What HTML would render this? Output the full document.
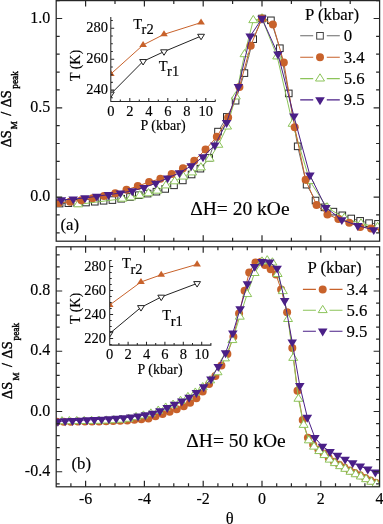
<!DOCTYPE html>
<html><head><meta charset="utf-8"><style>
html,body{margin:0;padding:0;background:#fff;}
svg{display:block;will-change:transform;}
text{stroke:#000;stroke-width:0.15px;}
text.r{stroke-width:0.4px;}
</style></head><body>
<svg width="383" height="524" viewBox="0 0 383 524">
<defs><clipPath id="ca"><rect x="56.2" y="0.5" width="323.4" height="240.6"/></clipPath><clipPath id="cb"><rect x="56.2" y="246.8" width="323.4" height="240"/></clipPath></defs>
<rect width="383" height="524" fill="white"/>
<g clip-path="url(#ca)">
<path d="M50.81,203.95 L59.61,203.55 L68.41,203.18 L77.21,202.87 L86.01,202.52 L94.81,201.72 L103.61,200.77 L112.41,200.07 L121.21,198.74 L130.01,196.98 L138.81,195.20 L147.61,193.60 L156.41,191.68 L165.21,188.92 L174.01,185.32 L182.81,180.40 L191.60,174.48 L200.40,168.65 L209.20,157.76 L218.00,131.61 L226.80,116.94 L235.60,100.70 L244.40,73.10 L253.20,39.14 L262.00,18.50 L270.92,20.33 L279.85,48.23 L288.77,93.41 L297.69,146.34 L306.61,184.66 L315.54,200.52 L324.46,207.36 L333.38,211.64 L342.31,215.33 L351.23,218.49 L360.15,220.87 L369.07,223.15 L378.00,223.88 L386.92,224.98" fill="none" stroke="#6a6a6a" stroke-width="1.0"/><rect x="47.51" y="200.65" width="6.60" height="6.60" fill="white" stroke="#2a2a2a" stroke-width="1"/><rect x="56.31" y="200.25" width="6.60" height="6.60" fill="white" stroke="#2a2a2a" stroke-width="1"/><rect x="65.11" y="199.88" width="6.60" height="6.60" fill="white" stroke="#2a2a2a" stroke-width="1"/><rect x="73.91" y="199.57" width="6.60" height="6.60" fill="white" stroke="#2a2a2a" stroke-width="1"/><rect x="82.71" y="199.22" width="6.60" height="6.60" fill="white" stroke="#2a2a2a" stroke-width="1"/><rect x="91.51" y="198.42" width="6.60" height="6.60" fill="white" stroke="#2a2a2a" stroke-width="1"/><rect x="100.31" y="197.47" width="6.60" height="6.60" fill="white" stroke="#2a2a2a" stroke-width="1"/><rect x="109.11" y="196.77" width="6.60" height="6.60" fill="white" stroke="#2a2a2a" stroke-width="1"/><rect x="117.91" y="195.44" width="6.60" height="6.60" fill="white" stroke="#2a2a2a" stroke-width="1"/><rect x="126.71" y="193.68" width="6.60" height="6.60" fill="white" stroke="#2a2a2a" stroke-width="1"/><rect x="135.51" y="191.90" width="6.60" height="6.60" fill="white" stroke="#2a2a2a" stroke-width="1"/><rect x="144.31" y="190.30" width="6.60" height="6.60" fill="white" stroke="#2a2a2a" stroke-width="1"/><rect x="153.11" y="188.38" width="6.60" height="6.60" fill="white" stroke="#2a2a2a" stroke-width="1"/><rect x="161.91" y="185.62" width="6.60" height="6.60" fill="white" stroke="#2a2a2a" stroke-width="1"/><rect x="170.71" y="182.02" width="6.60" height="6.60" fill="white" stroke="#2a2a2a" stroke-width="1"/><rect x="179.51" y="177.10" width="6.60" height="6.60" fill="white" stroke="#2a2a2a" stroke-width="1"/><rect x="188.30" y="171.18" width="6.60" height="6.60" fill="white" stroke="#2a2a2a" stroke-width="1"/><rect x="197.10" y="165.35" width="6.60" height="6.60" fill="white" stroke="#2a2a2a" stroke-width="1"/><rect x="205.90" y="154.46" width="6.60" height="6.60" fill="white" stroke="#2a2a2a" stroke-width="1"/><rect x="214.70" y="128.31" width="6.60" height="6.60" fill="white" stroke="#2a2a2a" stroke-width="1"/><rect x="223.50" y="113.64" width="6.60" height="6.60" fill="white" stroke="#2a2a2a" stroke-width="1"/><rect x="232.30" y="97.40" width="6.60" height="6.60" fill="white" stroke="#2a2a2a" stroke-width="1"/><rect x="241.10" y="69.80" width="6.60" height="6.60" fill="white" stroke="#2a2a2a" stroke-width="1"/><rect x="249.90" y="35.84" width="6.60" height="6.60" fill="white" stroke="#2a2a2a" stroke-width="1"/><rect x="258.70" y="15.20" width="6.60" height="6.60" fill="white" stroke="#2a2a2a" stroke-width="1"/><rect x="267.62" y="17.03" width="6.60" height="6.60" fill="white" stroke="#2a2a2a" stroke-width="1"/><rect x="276.55" y="44.93" width="6.60" height="6.60" fill="white" stroke="#2a2a2a" stroke-width="1"/><rect x="285.47" y="90.11" width="6.60" height="6.60" fill="white" stroke="#2a2a2a" stroke-width="1"/><rect x="294.39" y="143.04" width="6.60" height="6.60" fill="white" stroke="#2a2a2a" stroke-width="1"/><rect x="303.31" y="181.36" width="6.60" height="6.60" fill="white" stroke="#2a2a2a" stroke-width="1"/><rect x="312.24" y="197.22" width="6.60" height="6.60" fill="white" stroke="#2a2a2a" stroke-width="1"/><rect x="321.16" y="204.06" width="6.60" height="6.60" fill="white" stroke="#2a2a2a" stroke-width="1"/><rect x="330.08" y="208.34" width="6.60" height="6.60" fill="white" stroke="#2a2a2a" stroke-width="1"/><rect x="339.01" y="212.03" width="6.60" height="6.60" fill="white" stroke="#2a2a2a" stroke-width="1"/><rect x="347.93" y="215.19" width="6.60" height="6.60" fill="white" stroke="#2a2a2a" stroke-width="1"/><rect x="356.85" y="217.57" width="6.60" height="6.60" fill="white" stroke="#2a2a2a" stroke-width="1"/><rect x="365.77" y="219.85" width="6.60" height="6.60" fill="white" stroke="#2a2a2a" stroke-width="1"/><rect x="374.70" y="220.58" width="6.60" height="6.60" fill="white" stroke="#2a2a2a" stroke-width="1"/><rect x="383.62" y="221.68" width="6.60" height="6.60" fill="white" stroke="#2a2a2a" stroke-width="1"/>
<path d="M78.19,204.42 L122.29,198.78 L131.02,197.48 L139.75,195.51 L148.49,193.36 L157.22,190.78 L165.95,185.52 L174.68,181.41 L183.41,176.67 L192.15,172.52 L200.88,167.54 L209.61,158.77 L218.34,144.86 L227.07,126.63 L235.80,96.57 L244.54,54.29 L253.27,20.25 L262.00,18.50 L277.20,56.54 L292.61,123.87 L309.80,181.03 L327.00,207.46 L344.32,218.00 L360.99,223.53 L377.60,227.10" fill="none" stroke="#8cc45a" stroke-width="1.0"/><path d="M73.69,206.82L82.69,206.82L78.19,199.62Z" fill="white" stroke="#8cc45a" stroke-width="1"/><path d="M117.79,201.18L126.79,201.18L122.29,193.98Z" fill="white" stroke="#8cc45a" stroke-width="1"/><path d="M126.52,199.88L135.52,199.88L131.02,192.68Z" fill="white" stroke="#8cc45a" stroke-width="1"/><path d="M135.25,197.91L144.25,197.91L139.75,190.71Z" fill="white" stroke="#8cc45a" stroke-width="1"/><path d="M143.99,195.76L152.99,195.76L148.49,188.56Z" fill="white" stroke="#8cc45a" stroke-width="1"/><path d="M152.72,193.18L161.72,193.18L157.22,185.98Z" fill="white" stroke="#8cc45a" stroke-width="1"/><path d="M161.45,187.92L170.45,187.92L165.95,180.72Z" fill="white" stroke="#8cc45a" stroke-width="1"/><path d="M170.18,183.81L179.18,183.81L174.68,176.61Z" fill="white" stroke="#8cc45a" stroke-width="1"/><path d="M178.91,179.07L187.91,179.07L183.41,171.87Z" fill="white" stroke="#8cc45a" stroke-width="1"/><path d="M187.65,174.92L196.65,174.92L192.15,167.72Z" fill="white" stroke="#8cc45a" stroke-width="1"/><path d="M196.38,169.94L205.38,169.94L200.88,162.74Z" fill="white" stroke="#8cc45a" stroke-width="1"/><path d="M205.11,161.17L214.11,161.17L209.61,153.97Z" fill="white" stroke="#8cc45a" stroke-width="1"/><path d="M213.84,147.26L222.84,147.26L218.34,140.06Z" fill="white" stroke="#8cc45a" stroke-width="1"/><path d="M222.57,129.03L231.57,129.03L227.07,121.83Z" fill="white" stroke="#8cc45a" stroke-width="1"/><path d="M231.30,98.97L240.30,98.97L235.80,91.77Z" fill="white" stroke="#8cc45a" stroke-width="1"/><path d="M240.04,56.69L249.04,56.69L244.54,49.49Z" fill="white" stroke="#8cc45a" stroke-width="1"/><path d="M248.77,22.65L257.77,22.65L253.27,15.45Z" fill="white" stroke="#8cc45a" stroke-width="1"/><path d="M257.50,20.90L266.50,20.90L262.00,13.70Z" fill="white" stroke="#8cc45a" stroke-width="1"/><path d="M272.70,58.94L281.70,58.94L277.20,51.74Z" fill="white" stroke="#8cc45a" stroke-width="1"/><path d="M288.11,126.27L297.11,126.27L292.61,119.07Z" fill="white" stroke="#8cc45a" stroke-width="1"/><path d="M305.30,183.43L314.30,183.43L309.80,176.23Z" fill="white" stroke="#8cc45a" stroke-width="1"/><path d="M322.50,209.86L331.50,209.86L327.00,202.66Z" fill="white" stroke="#8cc45a" stroke-width="1"/><path d="M339.82,220.40L348.82,220.40L344.32,213.20Z" fill="white" stroke="#8cc45a" stroke-width="1"/><path d="M356.49,225.93L365.49,225.93L360.99,218.73Z" fill="white" stroke="#8cc45a" stroke-width="1"/><path d="M373.10,229.50L382.10,229.50L377.60,222.30Z" fill="white" stroke="#8cc45a" stroke-width="1"/>
<path d="M47.50,203.76 L58.79,202.98 L70.08,201.86 L81.37,200.14 L92.66,198.18 L103.95,195.94 L115.24,193.30 L126.52,189.81 L137.81,186.10 L149.10,182.00 L160.39,178.80 L171.68,174.05 L182.97,168.31 L194.26,160.64 L205.55,149.58 L216.84,136.81 L228.13,117.49 L239.42,87.08 L250.71,45.63 L262.00,18.50 L272.91,24.57 L283.81,62.44 L294.72,127.27 L305.63,179.78 L316.54,204.96 L327.44,214.42 L338.35,219.07 L349.26,222.82 L360.17,226.93 L371.07,228.53 L381.98,229.95" fill="none" stroke="#c8622b" stroke-width="1.0"/><circle cx="47.50" cy="203.76" r="4.00" fill="#c8622b"/><circle cx="58.79" cy="202.98" r="4.00" fill="#c8622b"/><circle cx="70.08" cy="201.86" r="4.00" fill="#c8622b"/><circle cx="81.37" cy="200.14" r="4.00" fill="#c8622b"/><circle cx="92.66" cy="198.18" r="4.00" fill="#c8622b"/><circle cx="103.95" cy="195.94" r="4.00" fill="#c8622b"/><circle cx="115.24" cy="193.30" r="4.00" fill="#c8622b"/><circle cx="126.52" cy="189.81" r="4.00" fill="#c8622b"/><circle cx="137.81" cy="186.10" r="4.00" fill="#c8622b"/><circle cx="149.10" cy="182.00" r="4.00" fill="#c8622b"/><circle cx="160.39" cy="178.80" r="4.00" fill="#c8622b"/><circle cx="171.68" cy="174.05" r="4.00" fill="#c8622b"/><circle cx="182.97" cy="168.31" r="4.00" fill="#c8622b"/><circle cx="194.26" cy="160.64" r="4.00" fill="#c8622b"/><circle cx="205.55" cy="149.58" r="4.00" fill="#c8622b"/><circle cx="216.84" cy="136.81" r="4.00" fill="#c8622b"/><circle cx="228.13" cy="117.49" r="4.00" fill="#c8622b"/><circle cx="239.42" cy="87.08" r="4.00" fill="#c8622b"/><circle cx="250.71" cy="45.63" r="4.00" fill="#c8622b"/><circle cx="262.00" cy="18.50" r="4.00" fill="#c8622b"/><circle cx="272.91" cy="24.57" r="4.00" fill="#c8622b"/><circle cx="283.81" cy="62.44" r="4.00" fill="#c8622b"/><circle cx="294.72" cy="127.27" r="4.00" fill="#c8622b"/><circle cx="305.63" cy="179.78" r="4.00" fill="#c8622b"/><circle cx="316.54" cy="204.96" r="4.00" fill="#c8622b"/><circle cx="327.44" cy="214.42" r="4.00" fill="#c8622b"/><circle cx="338.35" cy="219.07" r="4.00" fill="#c8622b"/><circle cx="349.26" cy="222.82" r="4.00" fill="#c8622b"/><circle cx="360.17" cy="226.93" r="4.00" fill="#c8622b"/><circle cx="371.07" cy="228.53" r="4.00" fill="#c8622b"/><circle cx="381.98" cy="229.95" r="4.00" fill="#c8622b"/>
<path d="M49.58,200.27 L61.38,199.94 L73.18,199.02 L84.98,197.93 L96.78,196.30 L108.58,194.64 L120.39,193.08 L132.19,190.98 L143.99,187.56 L155.79,183.32 L167.59,178.10 L179.39,172.84 L191.19,165.96 L202.99,156.87 L214.80,145.14 L226.60,122.67 L238.40,86.75 L250.20,36.21 L262.00,18.50 L277.96,54.22 L293.93,116.19 L309.89,175.13 L325.86,207.64 L341.82,219.78 L357.79,225.68 L373.75,229.78" fill="none" stroke="#4a1f87" stroke-width="1.0"/><path d="M44.78,197.64L54.38,197.64L49.58,205.54Z" fill="#4a1f87"/><path d="M56.58,197.31L66.18,197.31L61.38,205.21Z" fill="#4a1f87"/><path d="M68.38,196.39L77.98,196.39L73.18,204.29Z" fill="#4a1f87"/><path d="M80.18,195.30L89.78,195.30L84.98,203.20Z" fill="#4a1f87"/><path d="M91.98,193.67L101.58,193.67L96.78,201.57Z" fill="#4a1f87"/><path d="M103.78,192.00L113.38,192.00L108.58,199.90Z" fill="#4a1f87"/><path d="M115.59,190.44L125.19,190.44L120.39,198.34Z" fill="#4a1f87"/><path d="M127.39,188.35L136.99,188.35L132.19,196.25Z" fill="#4a1f87"/><path d="M139.19,184.93L148.79,184.93L143.99,192.83Z" fill="#4a1f87"/><path d="M150.99,180.69L160.59,180.69L155.79,188.59Z" fill="#4a1f87"/><path d="M162.79,175.47L172.39,175.47L167.59,183.37Z" fill="#4a1f87"/><path d="M174.59,170.20L184.19,170.20L179.39,178.10Z" fill="#4a1f87"/><path d="M186.39,163.33L195.99,163.33L191.19,171.23Z" fill="#4a1f87"/><path d="M198.19,154.24L207.79,154.24L202.99,162.14Z" fill="#4a1f87"/><path d="M210.00,142.50L219.60,142.50L214.80,150.40Z" fill="#4a1f87"/><path d="M221.80,120.04L231.40,120.04L226.60,127.94Z" fill="#4a1f87"/><path d="M233.60,84.12L243.20,84.12L238.40,92.02Z" fill="#4a1f87"/><path d="M245.40,33.57L255.00,33.57L250.20,41.47Z" fill="#4a1f87"/><path d="M257.20,15.87L266.80,15.87L262.00,23.77Z" fill="#4a1f87"/><path d="M273.16,51.59L282.76,51.59L277.96,59.49Z" fill="#4a1f87"/><path d="M289.13,113.56L298.73,113.56L293.93,121.46Z" fill="#4a1f87"/><path d="M305.09,172.50L314.69,172.50L309.89,180.40Z" fill="#4a1f87"/><path d="M321.06,205.00L330.66,205.00L325.86,212.90Z" fill="#4a1f87"/><path d="M337.02,217.15L346.62,217.15L341.82,225.05Z" fill="#4a1f87"/><path d="M352.99,223.04L362.59,223.04L357.79,230.94Z" fill="#4a1f87"/><path d="M368.95,227.15L378.55,227.15L373.75,235.05Z" fill="#4a1f87"/>
</g>
<g clip-path="url(#cb)">
<path d="M49.67,421.82 L56.73,421.74 L63.79,421.68 L70.84,421.63 L77.90,421.58 L84.95,421.54 L92.01,421.51 L99.07,421.45 L106.12,421.34 L113.18,421.12 L120.23,420.82 L127.29,420.44 L134.35,419.79 L141.40,419.27 L148.46,418.57 L155.51,416.21 L162.57,414.04 L169.63,411.80 L176.68,409.32 L183.74,406.31 L190.06,402.75 L196.38,398.15 L202.70,391.47 L209.08,384.09 L215.40,376.11 L221.40,365.42 L227.40,354.12 L233.39,336.65 L239.07,313.61 L244.60,290.72 L249.21,272.50 L255.50,262.41 L261.12,261.65 L264.91,264.97 L270.70,269.33 L275.99,274.60 L281.11,289.51 L287.11,312.25 L292.31,348.12 L297.52,390.85 L302.72,419.90 L307.92,437.65 L313.13,444.78 L318.33,449.54 L323.53,453.50 L328.74,458.10 L333.94,461.74 L339.15,464.84 L344.35,467.52 L349.55,470.49 L354.76,473.05 L359.96,475.26 L365.16,477.90 L370.37,480.52 L375.57,482.70 L380.78,484.73 L385.98,486.64" fill="none" stroke="#c8622b" stroke-width="1.0"/><circle cx="49.67" cy="421.82" r="4.00" fill="#c8622b"/><circle cx="56.73" cy="421.74" r="4.00" fill="#c8622b"/><circle cx="63.79" cy="421.68" r="4.00" fill="#c8622b"/><circle cx="70.84" cy="421.63" r="4.00" fill="#c8622b"/><circle cx="77.90" cy="421.58" r="4.00" fill="#c8622b"/><circle cx="84.95" cy="421.54" r="4.00" fill="#c8622b"/><circle cx="92.01" cy="421.51" r="4.00" fill="#c8622b"/><circle cx="99.07" cy="421.45" r="4.00" fill="#c8622b"/><circle cx="106.12" cy="421.34" r="4.00" fill="#c8622b"/><circle cx="113.18" cy="421.12" r="4.00" fill="#c8622b"/><circle cx="120.23" cy="420.82" r="4.00" fill="#c8622b"/><circle cx="127.29" cy="420.44" r="4.00" fill="#c8622b"/><circle cx="134.35" cy="419.79" r="4.00" fill="#c8622b"/><circle cx="141.40" cy="419.27" r="4.00" fill="#c8622b"/><circle cx="148.46" cy="418.57" r="4.00" fill="#c8622b"/><circle cx="155.51" cy="416.21" r="4.00" fill="#c8622b"/><circle cx="162.57" cy="414.04" r="4.00" fill="#c8622b"/><circle cx="169.63" cy="411.80" r="4.00" fill="#c8622b"/><circle cx="176.68" cy="409.32" r="4.00" fill="#c8622b"/><circle cx="183.74" cy="406.31" r="4.00" fill="#c8622b"/><circle cx="190.06" cy="402.75" r="4.00" fill="#c8622b"/><circle cx="196.38" cy="398.15" r="4.00" fill="#c8622b"/><circle cx="202.70" cy="391.47" r="4.00" fill="#c8622b"/><circle cx="209.08" cy="384.09" r="4.00" fill="#c8622b"/><circle cx="215.40" cy="376.11" r="4.00" fill="#c8622b"/><circle cx="221.40" cy="365.42" r="4.00" fill="#c8622b"/><circle cx="227.40" cy="354.12" r="4.00" fill="#c8622b"/><circle cx="233.39" cy="336.65" r="4.00" fill="#c8622b"/><circle cx="239.07" cy="313.61" r="4.00" fill="#c8622b"/><circle cx="244.60" cy="290.72" r="4.00" fill="#c8622b"/><circle cx="249.21" cy="272.50" r="4.00" fill="#c8622b"/><circle cx="255.50" cy="262.41" r="4.00" fill="#c8622b"/><circle cx="261.12" cy="261.65" r="4.00" fill="#c8622b"/><circle cx="264.91" cy="264.97" r="4.00" fill="#c8622b"/><circle cx="270.70" cy="269.33" r="4.00" fill="#c8622b"/><circle cx="275.99" cy="274.60" r="4.00" fill="#c8622b"/><circle cx="281.11" cy="289.51" r="4.00" fill="#c8622b"/><circle cx="287.11" cy="312.25" r="4.00" fill="#c8622b"/><circle cx="292.31" cy="348.12" r="4.00" fill="#c8622b"/><circle cx="297.52" cy="390.85" r="4.00" fill="#c8622b"/><circle cx="302.72" cy="419.90" r="4.00" fill="#c8622b"/><circle cx="307.92" cy="437.65" r="4.00" fill="#c8622b"/><circle cx="313.13" cy="444.78" r="4.00" fill="#c8622b"/><circle cx="318.33" cy="449.54" r="4.00" fill="#c8622b"/><circle cx="323.53" cy="453.50" r="4.00" fill="#c8622b"/><circle cx="328.74" cy="458.10" r="4.00" fill="#c8622b"/><circle cx="333.94" cy="461.74" r="4.00" fill="#c8622b"/><circle cx="339.15" cy="464.84" r="4.00" fill="#c8622b"/><circle cx="344.35" cy="467.52" r="4.00" fill="#c8622b"/><circle cx="349.55" cy="470.49" r="4.00" fill="#c8622b"/><circle cx="354.76" cy="473.05" r="4.00" fill="#c8622b"/><circle cx="359.96" cy="475.26" r="4.00" fill="#c8622b"/><circle cx="365.16" cy="477.90" r="4.00" fill="#c8622b"/><circle cx="370.37" cy="480.52" r="4.00" fill="#c8622b"/><circle cx="375.57" cy="482.70" r="4.00" fill="#c8622b"/><circle cx="380.78" cy="484.73" r="4.00" fill="#c8622b"/><circle cx="385.98" cy="486.64" r="4.00" fill="#c8622b"/>
<path d="M47.14,421.56 L54.55,421.46 L61.96,421.37 L69.37,421.29 L76.78,421.21 L84.19,421.12 L91.60,421.01 L99.01,420.87 L106.42,420.66 L113.82,420.32 L121.23,419.82 L128.64,418.83 L136.05,417.24 L143.46,415.67 L150.87,413.64 L158.28,410.79 L165.69,407.74 L173.09,404.83 L180.50,401.00 L187.91,397.12 L195.32,392.75 L202.73,387.33 L210.14,380.46 L217.55,372.35 L224.96,358.47 L232.36,340.17 L239.77,316.77 L247.18,294.17 L254.59,273.09 L262.00,261.65 L267.20,260.45 L272.41,262.58 L277.61,274.09 L282.82,291.22 L288.02,319.11 L293.22,357.99 L298.43,398.85 L303.63,424.96 L308.83,440.44 L314.04,446.74 L319.24,451.15 L324.45,455.17 L329.65,459.71 L334.85,463.22 L340.06,466.25 L345.26,468.90 L350.46,471.88 L355.67,474.36 L360.87,476.59 L366.08,479.28 L371.28,481.84 L376.48,483.96 L381.69,485.94 L386.89,487.77" fill="none" stroke="#8cc45a" stroke-width="1.0"/><path d="M42.64,423.96L51.64,423.96L47.14,416.76Z" fill="white" stroke="#8cc45a" stroke-width="1"/><path d="M50.05,423.86L59.05,423.86L54.55,416.66Z" fill="white" stroke="#8cc45a" stroke-width="1"/><path d="M57.46,423.77L66.46,423.77L61.96,416.57Z" fill="white" stroke="#8cc45a" stroke-width="1"/><path d="M64.87,423.69L73.87,423.69L69.37,416.49Z" fill="white" stroke="#8cc45a" stroke-width="1"/><path d="M72.28,423.61L81.28,423.61L76.78,416.41Z" fill="white" stroke="#8cc45a" stroke-width="1"/><path d="M79.69,423.52L88.69,423.52L84.19,416.32Z" fill="white" stroke="#8cc45a" stroke-width="1"/><path d="M87.10,423.41L96.10,423.41L91.60,416.21Z" fill="white" stroke="#8cc45a" stroke-width="1"/><path d="M94.51,423.27L103.51,423.27L99.01,416.07Z" fill="white" stroke="#8cc45a" stroke-width="1"/><path d="M101.92,423.06L110.92,423.06L106.42,415.86Z" fill="white" stroke="#8cc45a" stroke-width="1"/><path d="M109.32,422.72L118.32,422.72L113.82,415.52Z" fill="white" stroke="#8cc45a" stroke-width="1"/><path d="M116.73,422.22L125.73,422.22L121.23,415.02Z" fill="white" stroke="#8cc45a" stroke-width="1"/><path d="M124.14,421.23L133.14,421.23L128.64,414.03Z" fill="white" stroke="#8cc45a" stroke-width="1"/><path d="M131.55,419.64L140.55,419.64L136.05,412.44Z" fill="white" stroke="#8cc45a" stroke-width="1"/><path d="M138.96,418.07L147.96,418.07L143.46,410.87Z" fill="white" stroke="#8cc45a" stroke-width="1"/><path d="M146.37,416.04L155.37,416.04L150.87,408.84Z" fill="white" stroke="#8cc45a" stroke-width="1"/><path d="M153.78,413.19L162.78,413.19L158.28,405.99Z" fill="white" stroke="#8cc45a" stroke-width="1"/><path d="M161.19,410.14L170.19,410.14L165.69,402.94Z" fill="white" stroke="#8cc45a" stroke-width="1"/><path d="M168.59,407.23L177.59,407.23L173.09,400.03Z" fill="white" stroke="#8cc45a" stroke-width="1"/><path d="M176.00,403.40L185.00,403.40L180.50,396.20Z" fill="white" stroke="#8cc45a" stroke-width="1"/><path d="M183.41,399.52L192.41,399.52L187.91,392.32Z" fill="white" stroke="#8cc45a" stroke-width="1"/><path d="M190.82,395.15L199.82,395.15L195.32,387.95Z" fill="white" stroke="#8cc45a" stroke-width="1"/><path d="M198.23,389.73L207.23,389.73L202.73,382.53Z" fill="white" stroke="#8cc45a" stroke-width="1"/><path d="M205.64,382.86L214.64,382.86L210.14,375.66Z" fill="white" stroke="#8cc45a" stroke-width="1"/><path d="M213.05,374.75L222.05,374.75L217.55,367.55Z" fill="white" stroke="#8cc45a" stroke-width="1"/><path d="M220.46,360.87L229.46,360.87L224.96,353.67Z" fill="white" stroke="#8cc45a" stroke-width="1"/><path d="M227.86,342.57L236.86,342.57L232.36,335.37Z" fill="white" stroke="#8cc45a" stroke-width="1"/><path d="M235.27,319.17L244.27,319.17L239.77,311.97Z" fill="white" stroke="#8cc45a" stroke-width="1"/><path d="M242.68,296.57L251.68,296.57L247.18,289.37Z" fill="white" stroke="#8cc45a" stroke-width="1"/><path d="M250.09,275.49L259.09,275.49L254.59,268.29Z" fill="white" stroke="#8cc45a" stroke-width="1"/><path d="M257.50,264.05L266.50,264.05L262.00,256.85Z" fill="white" stroke="#8cc45a" stroke-width="1"/><path d="M262.70,262.85L271.70,262.85L267.20,255.65Z" fill="white" stroke="#8cc45a" stroke-width="1"/><path d="M267.91,264.98L276.91,264.98L272.41,257.78Z" fill="white" stroke="#8cc45a" stroke-width="1"/><path d="M273.11,276.49L282.11,276.49L277.61,269.29Z" fill="white" stroke="#8cc45a" stroke-width="1"/><path d="M278.32,293.62L287.32,293.62L282.82,286.42Z" fill="white" stroke="#8cc45a" stroke-width="1"/><path d="M283.52,321.51L292.52,321.51L288.02,314.31Z" fill="white" stroke="#8cc45a" stroke-width="1"/><path d="M288.72,360.39L297.72,360.39L293.22,353.19Z" fill="white" stroke="#8cc45a" stroke-width="1"/><path d="M293.93,401.25L302.93,401.25L298.43,394.05Z" fill="white" stroke="#8cc45a" stroke-width="1"/><path d="M299.13,427.36L308.13,427.36L303.63,420.16Z" fill="white" stroke="#8cc45a" stroke-width="1"/><path d="M304.33,442.84L313.33,442.84L308.83,435.64Z" fill="white" stroke="#8cc45a" stroke-width="1"/><path d="M309.54,449.14L318.54,449.14L314.04,441.94Z" fill="white" stroke="#8cc45a" stroke-width="1"/><path d="M314.74,453.55L323.74,453.55L319.24,446.35Z" fill="white" stroke="#8cc45a" stroke-width="1"/><path d="M319.95,457.57L328.95,457.57L324.45,450.37Z" fill="white" stroke="#8cc45a" stroke-width="1"/><path d="M325.15,462.11L334.15,462.11L329.65,454.91Z" fill="white" stroke="#8cc45a" stroke-width="1"/><path d="M330.35,465.62L339.35,465.62L334.85,458.42Z" fill="white" stroke="#8cc45a" stroke-width="1"/><path d="M335.56,468.65L344.56,468.65L340.06,461.45Z" fill="white" stroke="#8cc45a" stroke-width="1"/><path d="M340.76,471.30L349.76,471.30L345.26,464.10Z" fill="white" stroke="#8cc45a" stroke-width="1"/><path d="M345.96,474.28L354.96,474.28L350.46,467.08Z" fill="white" stroke="#8cc45a" stroke-width="1"/><path d="M351.17,476.76L360.17,476.76L355.67,469.56Z" fill="white" stroke="#8cc45a" stroke-width="1"/><path d="M356.37,478.99L365.37,478.99L360.87,471.79Z" fill="white" stroke="#8cc45a" stroke-width="1"/><path d="M361.58,481.68L370.58,481.68L366.08,474.48Z" fill="white" stroke="#8cc45a" stroke-width="1"/><path d="M366.78,484.24L375.78,484.24L371.28,477.04Z" fill="white" stroke="#8cc45a" stroke-width="1"/><path d="M371.98,486.36L380.98,486.36L376.48,479.16Z" fill="white" stroke="#8cc45a" stroke-width="1"/><path d="M377.19,488.34L386.19,488.34L381.69,481.14Z" fill="white" stroke="#8cc45a" stroke-width="1"/><path d="M382.39,490.17L391.39,490.17L386.89,482.97Z" fill="white" stroke="#8cc45a" stroke-width="1"/>
<path d="M50.56,421.61 L57.85,421.38 L65.14,421.00 L72.43,420.61 L79.72,420.28 L87.01,419.97 L94.30,419.63 L101.59,419.26 L108.88,418.86 L116.18,418.41 L123.47,417.86 L130.76,417.11 L138.05,416.13 L145.34,414.95 L152.63,413.41 L159.92,411.00 L167.21,407.63 L174.51,404.28 L181.80,401.22 L189.09,397.39 L196.38,392.69 L203.67,386.88 L210.96,379.14 L218.25,366.51 L225.54,352.94 L232.84,333.09 L240.13,308.93 L247.42,283.90 L254.71,266.54 L262.00,261.65 L269.56,262.11 L277.11,268.33 L284.67,300.63 L292.22,342.05 L299.78,385.64 L307.33,417.36 L314.89,437.63 L322.45,446.34 L330.00,451.61 L337.56,455.48 L345.11,459.35 L352.67,462.93 L360.23,466.21 L367.78,469.19 L375.34,472.14 L382.89,474.69" fill="none" stroke="#4a1f87" stroke-width="1.0"/><path d="M45.76,418.98L55.36,418.98L50.56,426.88Z" fill="#4a1f87"/><path d="M53.05,418.74L62.65,418.74L57.85,426.64Z" fill="#4a1f87"/><path d="M60.34,418.37L69.94,418.37L65.14,426.27Z" fill="#4a1f87"/><path d="M67.63,417.98L77.23,417.98L72.43,425.88Z" fill="#4a1f87"/><path d="M74.92,417.65L84.52,417.65L79.72,425.55Z" fill="#4a1f87"/><path d="M82.21,417.33L91.81,417.33L87.01,425.23Z" fill="#4a1f87"/><path d="M89.50,417.00L99.10,417.00L94.30,424.90Z" fill="#4a1f87"/><path d="M96.79,416.63L106.39,416.63L101.59,424.53Z" fill="#4a1f87"/><path d="M104.08,416.23L113.68,416.23L108.88,424.13Z" fill="#4a1f87"/><path d="M111.38,415.78L120.98,415.78L116.18,423.68Z" fill="#4a1f87"/><path d="M118.67,415.22L128.27,415.22L123.47,423.12Z" fill="#4a1f87"/><path d="M125.96,414.47L135.56,414.47L130.76,422.37Z" fill="#4a1f87"/><path d="M133.25,413.49L142.85,413.49L138.05,421.39Z" fill="#4a1f87"/><path d="M140.54,412.32L150.14,412.32L145.34,420.22Z" fill="#4a1f87"/><path d="M147.83,410.77L157.43,410.77L152.63,418.67Z" fill="#4a1f87"/><path d="M155.12,408.36L164.72,408.36L159.92,416.26Z" fill="#4a1f87"/><path d="M162.41,405.00L172.01,405.00L167.21,412.90Z" fill="#4a1f87"/><path d="M169.71,401.64L179.31,401.64L174.51,409.54Z" fill="#4a1f87"/><path d="M177.00,398.59L186.60,398.59L181.80,406.49Z" fill="#4a1f87"/><path d="M184.29,394.75L193.89,394.75L189.09,402.65Z" fill="#4a1f87"/><path d="M191.58,390.06L201.18,390.06L196.38,397.96Z" fill="#4a1f87"/><path d="M198.87,384.25L208.47,384.25L203.67,392.15Z" fill="#4a1f87"/><path d="M206.16,376.51L215.76,376.51L210.96,384.41Z" fill="#4a1f87"/><path d="M213.45,363.88L223.05,363.88L218.25,371.78Z" fill="#4a1f87"/><path d="M220.74,350.31L230.34,350.31L225.54,358.21Z" fill="#4a1f87"/><path d="M228.04,330.45L237.64,330.45L232.84,338.35Z" fill="#4a1f87"/><path d="M235.33,306.30L244.93,306.30L240.13,314.20Z" fill="#4a1f87"/><path d="M242.62,281.27L252.22,281.27L247.42,289.17Z" fill="#4a1f87"/><path d="M249.91,263.91L259.51,263.91L254.71,271.81Z" fill="#4a1f87"/><path d="M257.20,259.02L266.80,259.02L262.00,266.92Z" fill="#4a1f87"/><path d="M264.76,259.48L274.36,259.48L269.56,267.38Z" fill="#4a1f87"/><path d="M272.31,265.70L281.91,265.70L277.11,273.60Z" fill="#4a1f87"/><path d="M279.87,297.99L289.47,297.99L284.67,305.89Z" fill="#4a1f87"/><path d="M287.42,339.41L297.02,339.41L292.22,347.31Z" fill="#4a1f87"/><path d="M294.98,383.01L304.58,383.01L299.78,390.91Z" fill="#4a1f87"/><path d="M302.53,414.73L312.13,414.73L307.33,422.63Z" fill="#4a1f87"/><path d="M310.09,434.99L319.69,434.99L314.89,442.89Z" fill="#4a1f87"/><path d="M317.65,443.70L327.25,443.70L322.45,451.60Z" fill="#4a1f87"/><path d="M325.20,448.98L334.80,448.98L330.00,456.88Z" fill="#4a1f87"/><path d="M332.76,452.84L342.36,452.84L337.56,460.74Z" fill="#4a1f87"/><path d="M340.31,456.72L349.91,456.72L345.11,464.62Z" fill="#4a1f87"/><path d="M347.87,460.29L357.47,460.29L352.67,468.19Z" fill="#4a1f87"/><path d="M355.43,463.58L365.03,463.58L360.23,471.48Z" fill="#4a1f87"/><path d="M362.98,466.56L372.58,466.56L367.78,474.46Z" fill="#4a1f87"/><path d="M370.54,469.51L380.14,469.51L375.34,477.41Z" fill="#4a1f87"/><path d="M378.09,472.06L387.69,472.06L382.89,479.96Z" fill="#4a1f87"/>
</g>
<rect x="56.2" y="0.6" width="323.4" height="240.6" fill="none" stroke="#262626" stroke-width="1.25"/>
<rect x="56.2" y="246.8" width="323.4" height="240.0" fill="none" stroke="#262626" stroke-width="1.25"/>
<path d="M56.2,232.82h3.5M379.6,232.82h-3.5M56.2,214.96h3.5M379.6,214.96h-3.5M56.2,197.10h6M379.6,197.10h-6M56.2,179.24h3.5M379.6,179.24h-3.5M56.2,161.38h3.5M379.6,161.38h-3.5M56.2,143.52h3.5M379.6,143.52h-3.5M56.2,125.66h3.5M379.6,125.66h-3.5M56.2,107.80h6M379.6,107.80h-6M56.2,89.94h3.5M379.6,89.94h-3.5M56.2,72.08h3.5M379.6,72.08h-3.5M56.2,54.22h3.5M379.6,54.22h-3.5M56.2,36.36h3.5M379.6,36.36h-3.5M56.2,18.50h6M379.6,18.50h-6M56.2,0.64h3.5M379.6,0.64h-3.5M85.60,0.6v6M85.60,241.2v-6M115.00,0.6v3.5M115.00,241.2v-3.5M144.40,0.6v6M144.40,241.2v-6M173.80,0.6v3.5M173.80,241.2v-3.5M203.20,0.6v6M203.20,241.2v-6M232.60,0.6v3.5M232.60,241.2v-3.5M262.00,0.6v6M262.00,241.2v-6M291.40,0.6v3.5M291.40,241.2v-3.5M320.80,0.6v6M320.80,241.2v-6M350.20,0.6v3.5M350.20,241.2v-3.5M56.2,483.79h3.5M379.6,483.79h-3.5M56.2,471.74h6M379.6,471.74h-6M56.2,459.69h3.5M379.6,459.69h-3.5M56.2,447.64h3.5M379.6,447.64h-3.5M56.2,435.60h3.5M379.6,435.60h-3.5M56.2,423.55h3.5M379.6,423.55h-3.5M56.2,411.50h6M379.6,411.50h-6M56.2,399.45h3.5M379.6,399.45h-3.5M56.2,387.40h3.5M379.6,387.40h-3.5M56.2,375.36h3.5M379.6,375.36h-3.5M56.2,363.31h3.5M379.6,363.31h-3.5M56.2,351.26h6M379.6,351.26h-6M56.2,339.21h3.5M379.6,339.21h-3.5M56.2,327.16h3.5M379.6,327.16h-3.5M56.2,315.12h3.5M379.6,315.12h-3.5M56.2,303.07h3.5M379.6,303.07h-3.5M56.2,291.02h6M379.6,291.02h-6M56.2,278.97h3.5M379.6,278.97h-3.5M56.2,266.92h3.5M379.6,266.92h-3.5M56.2,254.88h3.5M379.6,254.88h-3.5M70.90,246.8v3.5M70.90,486.8v-3.5M85.60,246.8v6M85.60,486.8v-6M100.30,246.8v3.5M100.30,486.8v-3.5M115.00,246.8v3.5M115.00,486.8v-3.5M129.70,246.8v3.5M129.70,486.8v-3.5M144.40,246.8v6M144.40,486.8v-6M159.10,246.8v3.5M159.10,486.8v-3.5M173.80,246.8v3.5M173.80,486.8v-3.5M188.50,246.8v3.5M188.50,486.8v-3.5M203.20,246.8v6M203.20,486.8v-6M217.90,246.8v3.5M217.90,486.8v-3.5M232.60,246.8v3.5M232.60,486.8v-3.5M247.30,246.8v3.5M247.30,486.8v-3.5M262.00,246.8v6M262.00,486.8v-6M276.70,246.8v3.5M276.70,486.8v-3.5M291.40,246.8v3.5M291.40,486.8v-3.5M306.10,246.8v3.5M306.10,486.8v-3.5M320.80,246.8v6M320.80,486.8v-6M335.50,246.8v3.5M335.50,486.8v-3.5M350.20,246.8v3.5M350.20,486.8v-3.5M364.90,246.8v3.5M364.90,486.8v-3.5" stroke="#262626" stroke-width="1.2" fill="none"/>
<g font-family="Liberation Serif" font-size="16" fill="#000" text-anchor="end">
<text x="50.2" y="22.60">1.0</text>
<text x="50.2" y="111.90">0.5</text>
<text x="50.2" y="201.20">0.0</text>
<text x="50.2" y="295.12">0.8</text>
<text x="50.2" y="355.36">0.4</text>
<text x="50.2" y="415.60">0.0</text>
<text x="50.2" y="475.84">-0.4</text>
</g>
<g font-family="Liberation Serif" font-size="16" fill="#000" text-anchor="middle">
<text x="85.60" y="503.9">-6</text>
<text x="144.40" y="503.9">-4</text>
<text x="203.20" y="503.9">-2</text>
<text x="262.00" y="503.9">0</text>
<text x="320.80" y="503.9">2</text>
<text x="379.60" y="503.9">4</text>
<text x="229.6" y="523.6" font-size="16.5">θ</text>
</g>
<text class="r" transform="translate(10.5,147.25) rotate(-90)" font-family="Liberation Serif" font-size="14.2" fill="#000">ΔS</text>
<text class="r" transform="translate(17.1,129.27) rotate(-90)" font-family="Liberation Serif" font-size="9.2" fill="#000">M</text>
<text class="r" transform="translate(10.5,115.7) rotate(-90)" font-family="Liberation Serif" font-size="14.2" fill="#000">/</text>
<text class="r" transform="translate(10.5,107.25) rotate(-90)" font-family="Liberation Serif" font-size="14.2" fill="#000">ΔS</text>
<text class="r" transform="translate(17.7,88.75) rotate(-90)" font-family="Liberation Serif" font-size="9.3" fill="#000">peak</text>
<text class="r" transform="translate(12.0,398.95) rotate(-90)" font-family="Liberation Serif" font-size="14.2" fill="#000">ΔS</text>
<text class="r" transform="translate(18.5,380.57) rotate(-90)" font-family="Liberation Serif" font-size="9.2" fill="#000">M</text>
<text class="r" transform="translate(12.0,366.9) rotate(-90)" font-family="Liberation Serif" font-size="14.2" fill="#000">/</text>
<text class="r" transform="translate(12.0,358.45) rotate(-90)" font-family="Liberation Serif" font-size="14.2" fill="#000">ΔS</text>
<text class="r" transform="translate(18.8,340.45) rotate(-90)" font-family="Liberation Serif" font-size="9.3" fill="#000">peak</text>
<text x="60.5" y="229.6" font-family="Liberation Serif" font-size="16.8" fill="#000">(a)</text>
<text x="71.45" y="468.5" font-family="Liberation Serif" font-size="16.8" fill="#000">(b)</text>
<text x="190.2" y="214.9" font-family="Liberation Serif" font-size="19.5" fill="#000">ΔH= 20 kOe</text>
<text x="186.3" y="447.3" font-family="Liberation Serif" font-size="19.5" fill="#000">ΔH= 50 kOe</text>
<text x="305.1" y="20.2" font-family="Liberation Serif" font-size="16.8" fill="#000">P (kbar)</text>
<path d="M300.2,35.8H313.2M326.8,35.8H339.8" stroke="#6a6a6a" stroke-width="1.1"/>
<rect x="316.70" y="32.50" width="6.60" height="6.60" fill="white" stroke="#444444" stroke-width="1"/>
<text x="343.70" y="41.30" font-family="Liberation Serif" font-size="16.8" fill="#000">0</text>
<path d="M300.2,57.3H313.2M326.8,57.3H339.8" stroke="#c8622b" stroke-width="1.1"/>
<circle cx="320.00" cy="57.30" r="4.00" fill="#c8622b"/>
<text x="343.70" y="62.80" font-family="Liberation Serif" font-size="16.8" fill="#000">3.4</text>
<path d="M300.2,78.6H313.2M326.8,78.6H339.8" stroke="#8cc45a" stroke-width="1.1"/>
<path d="M315.50,81.00L324.50,81.00L320.00,73.80Z" fill="white" stroke="#8cc45a" stroke-width="1"/>
<text x="343.70" y="84.10" font-family="Liberation Serif" font-size="16.8" fill="#000">5.6</text>
<path d="M300.2,99.9H313.2M326.8,99.9H339.8" stroke="#4a1f87" stroke-width="1.1"/>
<path d="M315.20,97.27L324.80,97.27L320.00,105.17Z" fill="#4a1f87"/>
<text x="343.70" y="105.40" font-family="Liberation Serif" font-size="16.8" fill="#000">9.5</text>
<text x="307.6" y="273.2" font-family="Liberation Serif" font-size="16.8" fill="#000">P (kbar)</text>
<path d="M302.9,289.4H315.9M329.5,289.4H342.5" stroke="#c8622b" stroke-width="1.1"/>
<circle cx="322.70" cy="289.40" r="4.00" fill="#c8622b"/>
<text x="346.40" y="294.90" font-family="Liberation Serif" font-size="16.8" fill="#000">3.4</text>
<path d="M302.9,310.2H315.9M329.5,310.2H342.5" stroke="#8cc45a" stroke-width="1.1"/>
<path d="M318.20,312.60L327.20,312.60L322.70,305.40Z" fill="white" stroke="#8cc45a" stroke-width="1"/>
<text x="346.40" y="315.70" font-family="Liberation Serif" font-size="16.8" fill="#000">5.6</text>
<path d="M302.9,331.2H315.9M329.5,331.2H342.5" stroke="#4a1f87" stroke-width="1.1"/>
<path d="M317.90,328.57L327.50,328.57L322.70,336.47Z" fill="#4a1f87"/>
<text x="346.40" y="336.70" font-family="Liberation Serif" font-size="16.8" fill="#000">9.5</text>
<clipPath id="ia"><rect x="110.8" y="10.899999999999999" width="110.7" height="90.5"/></clipPath>
<g clip-path="url(#ia)">
<path d="M110.80,74.03 L143.10,44.99 L164.00,34.33 L201.05,22.58" stroke="#c8622b" stroke-width="1" fill="none"/>
<path d="M110.80,93.96 L143.10,61.36 L164.00,51.63 L201.05,36.10" stroke="#222" stroke-width="1" fill="none"/>
<path d="M106.97,76.07L114.62,76.07L110.80,69.95Z" fill="#c8622b"/>
<path d="M139.28,47.03L146.92,47.03L143.10,40.91Z" fill="#c8622b"/>
<path d="M160.18,36.37L167.82,36.37L164.00,30.25Z" fill="#c8622b"/>
<path d="M197.23,24.62L204.88,24.62L201.05,18.50Z" fill="#c8622b"/>
<path d="M107.38,92.14L114.22,92.14L110.80,97.61Z" fill="white" stroke="#222" stroke-width="1"/>
<path d="M139.68,59.54L146.52,59.54L143.10,65.01Z" fill="white" stroke="#222" stroke-width="1"/>
<path d="M160.58,49.81L167.42,49.81L164.00,55.28Z" fill="white" stroke="#222" stroke-width="1"/>
<path d="M197.63,34.28L204.47,34.28L201.05,39.75Z" fill="white" stroke="#222" stroke-width="1"/>
</g>
<path d="M110.8,16.9V101.4H215.5M120.30,101.4v-2.0M129.80,101.4v-3.4M139.30,101.4v-2.0M148.80,101.4v-3.4M158.30,101.4v-2.0M167.80,101.4v-3.4M177.30,101.4v-2.0M186.80,101.4v-3.4M196.30,101.4v-2.0M205.80,101.4v-3.4M215.30,101.4v-2.0M110.8,97.83h2.0M110.8,90.10h3.4M110.8,82.38h2.0M110.8,74.65h2.0M110.8,66.92h2.0M110.8,59.20h3.4M110.8,51.48h2.0M110.8,43.75h2.0M110.8,36.03h2.0M110.8,28.30h3.4M110.8,20.58h2.0" stroke="#262626" stroke-width="1.05" fill="none"/>
<g font-family="Liberation Serif" font-size="14.5" fill="#000" text-anchor="middle">
<text x="110.80" y="115.8">0</text>
<text x="129.80" y="115.8">2</text>
<text x="148.80" y="115.8">4</text>
<text x="167.80" y="115.8">6</text>
<text x="186.80" y="115.8">8</text>
<text x="205.80" y="115.8">10</text>
</g>
<text x="140.6" y="130.3" font-family="Liberation Serif" font-size="14" fill="#000">P (kbar)</text>
<g font-family="Liberation Serif" font-size="14.5" fill="#000" text-anchor="end">
<text x="107.90" y="93.90">240</text>
<text x="107.90" y="63.00">260</text>
<text x="107.90" y="32.10">280</text>
</g>
<text transform="translate(80.4,65.5) rotate(-90)" font-family="Liberation Serif" font-size="14" fill="#000" text-anchor="middle">T (K)</text>
<text x="133.2" y="29.4" font-family="Liberation Serif" font-size="14.5" fill="#000">T<tspan font-size="14.5" dy="4.7">r2</tspan></text>
<text x="158.7" y="70.6" font-family="Liberation Serif" font-size="14.5" fill="#000">T<tspan font-size="14.5" dy="5.5">r1</tspan></text>
<clipPath id="ib"><rect x="109.7" y="253.89999999999998" width="107.7" height="91.20000000000005"/></clipPath>
<g clip-path="url(#ib)">
<path d="M109.70,305.02 L140.98,281.98 L161.22,274.78 L197.10,264.34" stroke="#c8622b" stroke-width="1" fill="none"/>
<path d="M109.70,333.46 L140.98,307.42 L161.22,296.98 L197.10,283.42" stroke="#222" stroke-width="1" fill="none"/>
<path d="M105.88,307.06L113.53,307.06L109.70,300.94Z" fill="#c8622b"/>
<path d="M137.16,284.02L144.80,284.02L140.98,277.90Z" fill="#c8622b"/>
<path d="M157.40,276.82L165.04,276.82L161.22,270.70Z" fill="#c8622b"/>
<path d="M193.28,266.38L200.92,266.38L197.10,260.26Z" fill="#c8622b"/>
<path d="M106.28,331.64L113.12,331.64L109.70,337.11Z" fill="white" stroke="#222" stroke-width="1"/>
<path d="M137.56,305.60L144.40,305.60L140.98,311.07Z" fill="white" stroke="#222" stroke-width="1"/>
<path d="M157.80,295.16L164.64,295.16L161.22,300.63Z" fill="white" stroke="#222" stroke-width="1"/>
<path d="M193.68,281.60L200.52,281.60L197.10,287.07Z" fill="white" stroke="#222" stroke-width="1"/>
</g>
<path d="M109.7,259.9V345.1H211.4M118.90,345.1v-2.0M128.10,345.1v-3.4M137.30,345.1v-2.0M146.50,345.1v-3.4M155.70,345.1v-2.0M164.90,345.1v-3.4M174.10,345.1v-2.0M183.30,345.1v-3.4M192.50,345.1v-2.0M201.70,345.1v-3.4M210.90,345.1v-2.0M109.7,344.50h2.0M109.7,338.50h3.4M109.7,332.50h2.0M109.7,326.50h2.0M109.7,320.50h2.0M109.7,314.50h3.4M109.7,308.50h2.0M109.7,302.50h2.0M109.7,296.50h2.0M109.7,290.50h3.4M109.7,284.50h2.0M109.7,278.50h2.0M109.7,272.50h2.0M109.7,266.50h3.4M109.7,260.50h2.0" stroke="#262626" stroke-width="1.05" fill="none"/>
<g font-family="Liberation Serif" font-size="14.5" fill="#000" text-anchor="middle">
<text x="109.70" y="359.2">0</text>
<text x="128.10" y="359.2">2</text>
<text x="146.50" y="359.2">4</text>
<text x="164.90" y="359.2">6</text>
<text x="183.30" y="359.2">8</text>
<text x="201.70" y="359.2">10</text>
</g>
<text x="137.6" y="374.1" font-family="Liberation Serif" font-size="14" fill="#000">P (kbar)</text>
<g font-family="Liberation Serif" font-size="14.5" fill="#000" text-anchor="end">
<text x="106.00" y="342.60">220</text>
<text x="106.00" y="318.60">240</text>
<text x="106.00" y="294.60">260</text>
<text x="106.00" y="270.60">280</text>
</g>
<text transform="translate(80.3,308.5) rotate(-90)" font-family="Liberation Serif" font-size="14" fill="#000" text-anchor="middle">T (K)</text>
<text x="122.1" y="267.8" font-family="Liberation Serif" font-size="14.5" fill="#000">T<tspan font-size="14.5" dy="5.9">r2</tspan></text>
<text x="162.3" y="320.2" font-family="Liberation Serif" font-size="14.5" fill="#000">T<tspan font-size="14.5" dy="5.8">r1</tspan></text>
</svg>
</body></html>
